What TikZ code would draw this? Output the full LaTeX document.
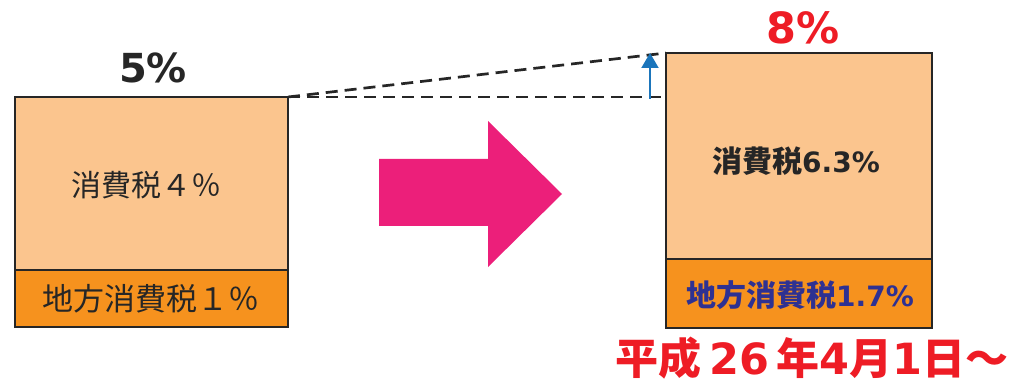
\documentclass[tikz,border=0pt]{standalone}
\usepackage{fontspec}
\setmainfont{Noto Sans CJK JP}
\newfontfamily\jpb{Noto Sans CJK JP Black}
\newfontfamily\digf{DejaVu Sans}[BoldFont={* Bold}]
\newcommand{\dg}[1]{{\digf\bfseries #1}}
\usetikzlibrary{arrows.meta}
\definecolor{lightor}{HTML}{FBC58E}
\definecolor{darkor}{HTML}{F6921E}
\definecolor{pinkarr}{HTML}{EC1F7A}
\definecolor{redtxt}{HTML}{EE1C25}
\definecolor{navytxt}{HTML}{2E3192}
\definecolor{bluearr}{HTML}{1B75BB}
\begin{document}
\begin{tikzpicture}[x=1pt,y=-1pt,
  boxline/.style={draw=black!85,line width=2.8pt},
  guide/.style={draw=black!85,dash pattern=on 12pt off 7pt,line width=2.7pt},
  lbl/.style={inner sep=0pt,anchor=center}]
\useasboundingbox (0,0) rectangle (1013,385);
% left box
\path[fill=lightor] (15,97) rectangle (288,270);
\path[fill=darkor] (15,270) rectangle (288,327);
\coordinate (lt) at (288,97);
\draw[boxline] (15,97) rectangle (288,327);
\draw[boxline] (15,270) -- (288,270);
% right box
\path[fill=lightor] (666,53) rectangle (932,259);
\path[fill=darkor] (666,259) rectangle (932,328);
\coordinate (rt) at (666,53);
\coordinate (rm) at (666,97);
\draw[boxline] (666,53) rectangle (932,328);
\draw[boxline] (666,259) -- (932,259);
% guides
\draw[guide] (lt) -- (rt);
\draw[guide] (lt) -- (rm);
\coordinate (ba) at (650,99);
\coordinate (bb) at (650,53);
\draw[bluearr,line width=2pt,-{Triangle[length=15pt,width=17pt]}] (ba) -- (bb);
% big arrow
\fill[pinkarr] (379,159) -- (488,159) -- (488,121) -- (562,194) -- (488,267) -- (488,226) -- (379,226) -- cycle;
% texts
\node[lbl,font=\fontsize{40}{40}\selectfont,text=black!85] (p5) at (153,68) {\dg{5\%}};
\node[lbl,font=\fontsize{43}{43}\selectfont,text=redtxt] (p8) at (803,28) {\dg{8\%}};
\node[lbl,font=\fontsize{30}{30}\selectfont,text=black!85] (t1) at (146,185) {消費税４％};
\node[lbl,font=\fontsize{31}{31}\selectfont,text=black!85] (t2) at (151,299) {地方消費税１％};
\node[lbl,font=\jpb\fontsize{30}{30}\selectfont,text=black!85] (t3) at (796,161) {消費税\fontsize{28}{28}\selectfont\dg{6.3\%}};
\node[lbl,font=\jpb\fontsize{30}{30}\selectfont,text=navytxt] (t4) at (800,295) {地方消費税\fontsize{28}{28}\selectfont\dg{1.7\%}};
\node[lbl,font=\jpb\fontsize{43}{43}\selectfont,text=redtxt] (t5) at (812,358) {平成\,\dg{26}\,年\dg{4}月\dg{1}日～};
\end{tikzpicture}
\end{document}
